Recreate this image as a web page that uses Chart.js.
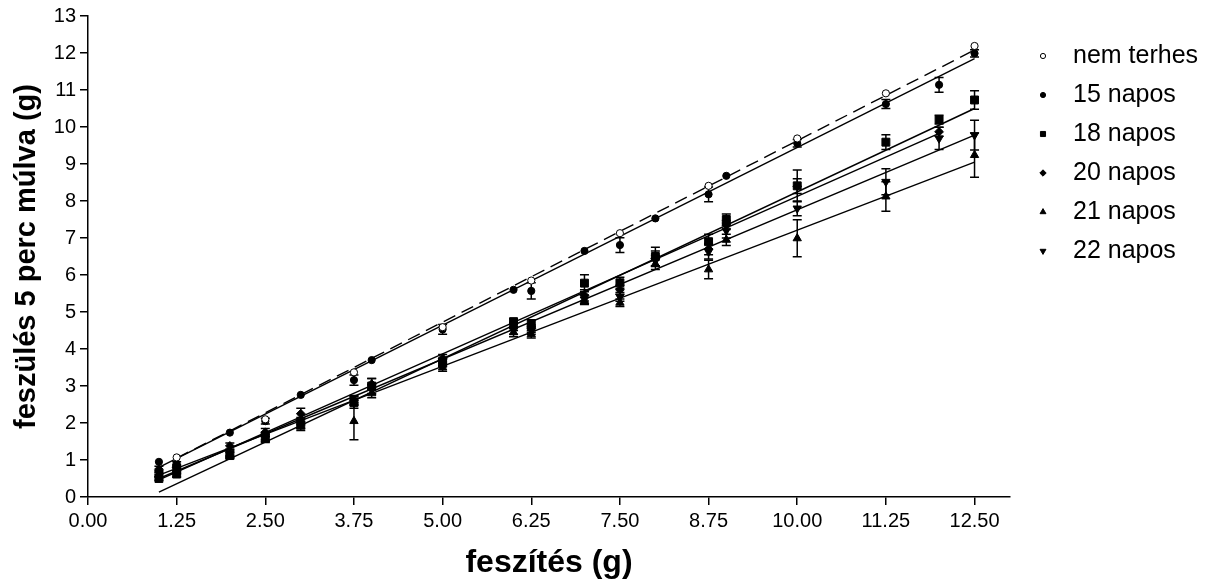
<!DOCTYPE html>
<html>
<head>
<meta charset="utf-8">
<script src="https://cdn.jsdelivr.net/npm/chart.js@4.4.1/dist/chart.umd.min.js"></script>
<style>
html,body{margin:0;padding:0;background:#fff;}
#wrap{width:1213px;height:587px;}
</style>
</head>
<body>
<div id="wrap"><canvas id="c" width="1213" height="587"></canvas></div>
<script>
// ---- data ----
const xValues = [1, 1.25, 2, 2.5, 3, 3.75, 4, 5, 6, 6.25, 7, 7.5, 8, 8.75, 9, 10, 11.25, 12, 12.5];

const nemTerhes = [null, 1.07, null, 2.10, null, 3.37, null, 4.59, null, 5.85, null, 7.13, null, 8.41, null, 9.69, 10.91, null, 12.19];
const nemTerhesErr = [0, 0, 0, 0, 0, 0, 0, 0, 0, 0, 0, 0, 0, 0, 0, 0, 0, 0, 0];

const napos15 = [0.95, 0.90, 1.74, 2.05, 2.76, 3.16, 3.70, 4.53, 5.60, 5.57, 6.65, 6.81, 7.53, 8.18, 8.68, 9.56, 10.62, 11.14, 11.99];
const napos15Err = [0, 0.05, 0, 0.08, 0, 0.14, 0, 0.13, 0, 0.22, 0, 0.20, 0, 0.20, 0, 0.10, 0.12, 0.20, 0.10];

const napos18 = [0.50, 0.62, 1.12, 1.60, 1.95, 2.55, 3.00, 3.62, 4.74, 4.69, 5.78, 5.79, 6.50, 6.90, 7.50, 8.41, 9.59, 10.20, 10.73];
const napos18Err = [0.05, 0.08, 0.08, 0.10, 0.10, 0.15, 0.20, 0.10, 0.08, 0.10, 0.23, 0.15, 0.25, 0.20, 0.15, 0.43, 0.20, 0.12, 0.25];

const napos20 = [0.75, 0.80, 1.38, 1.75, 2.25, 2.62, 3.05, 3.75, 4.60, 4.55, 5.45, 5.60, 6.45, 6.70, 7.35, 8.40, null, 9.87, null];
const napos20Err = [0.08, 0.08, 0.08, 0.10, 0.15, 0.12, 0.15, 0.10, 0.10, 0.10, 0.15, 0.12, 0.20, 0.15, 0.12, 0.20, 0, 0.12, 0];

const napos21 = [0.60, 0.70, 1.15, 1.55, 1.90, 2.05, 2.80, 3.50, 4.45, 4.40, 5.30, 5.25, 6.30, 6.15, 6.95, 6.99, 8.12, null, 9.24];
const napos21Err = [0.05, 0.08, 0.08, 0.08, 0.10, 0.50, 0.12, 0.10, 0.12, 0.10, 0.10, 0.10, 0.15, 0.25, 0.15, 0.50, 0.40, 0, 0.60];

const napos22 = [0.65, 0.75, 1.20, 1.65, 2.05, 2.60, 2.90, 3.65, 4.50, 4.50, 5.34, 5.41, 6.38, 6.63, 7.20, 7.80, 8.52, 9.69, 9.78];
const napos22Err = [0.05, 0.08, 0.08, 0.10, 0.10, 0.12, 0.12, 0.10, 0.10, 0.10, 0.12, 0.12, 0.15, 0.20, 0.20, 0.20, 0.35, 0.30, 0.40];

// fitted lines, order: nem terhes, 15, 18, 20, 21, 22 napos
const fitStartX = [1.25, 1, 1, 1, 1, 1];
const fitStartY = [1.05, 0.80, 0.13, 0.46, 0.59, 0.50];
const fitEndX = [12.5, 12.5, 12.5, 12, 12.5, 12.5];
const fitEndY = [12.08, 11.85, 10.50, 9.83, 9.05, 9.78];

const seriesLabels = ['nem terhes', '15 napos', '18 napos', '20 napos', '21 napos', '22 napos'];
const xTicks = [0, 1.25, 2.5, 3.75, 5, 6.25, 7.5, 8.75, 10, 11.25, 12.5];
const yTicks = [0, 1, 2, 3, 4, 5, 6, 7, 8, 9, 10, 11, 12, 13];
const xTitle = 'feszítés (g)';
const yTitle = 'feszülés 5 perc múlva (g)';

// ---- build datasets ----
function points(vals, errs) {
  const out = [];
  vals.forEach((v, i) => { if (v !== null) out.push({ x: xValues[i], y: v, e: errs[i] }); });
  return out;
}
const seriesVals = [nemTerhes, napos15, napos18, napos20, napos21, napos22];
const seriesErrs = [nemTerhesErr, napos15Err, napos18Err, napos20Err, napos21Err, napos22Err];
const styles = [
  { pointStyle: 'circle', radius: 3.6, bg: '#ffffff', rot: 0, lr: 2.6 },
  { pointStyle: 'circle', radius: 3.6, bg: '#000000', rot: 0, lr: 2.6 },
  { pointStyle: 'rect', radius: 5.6, bg: '#000000', rot: 0, lr: 3.6 },
  { pointStyle: 'rectRot', radius: 4.4, bg: '#000000', rot: 0, lr: 3.2 },
  { pointStyle: 'triangle', radius: 4.8, bg: '#000000', rot: 0, lr: 3.4 },
  { pointStyle: 'triangle', radius: 4.8, bg: '#000000', rot: 180, lr: 3.4 }
];

const datasets = [];
seriesLabels.forEach((lab, i) => {
  datasets.push({
    label: lab + ' (illesztés)',
    data: [{ x: fitStartX[i], y: fitStartY[i] }, { x: fitEndX[i], y: fitEndY[i] }],
    showLine: true,
    pointRadius: 0,
    borderColor: '#000',
    borderWidth: 1.4,
    borderDash: i === 0 ? [13, 7] : [],
    fill: false,
    order: 2
  });
});
seriesLabels.forEach((lab, i) => {
  const s = styles[i];
  datasets.push({
    label: lab,
    inLegend: true,
    legendRadius: s.lr,
    data: points(seriesVals[i], seriesErrs[i]),
    showLine: false,
    pointStyle: s.pointStyle,
    pointRadius: s.radius,
    pointRotation: s.rot,
    backgroundColor: s.bg,
    borderColor: '#000',
    pointBorderWidth: 1,
    order: 1
  });
});

// ---- plugins ----
const errorBars = {
  id: 'errorBars',
  beforeDatasetsDraw(chart) {
    const { ctx, scales } = chart;
    const xs = scales.x, ys = scales.y;
    ctx.save();
    ctx.strokeStyle = '#000';
    ctx.lineWidth = 1.5;
    chart.data.datasets.forEach(ds => {
      if (!ds.inLegend) return;
      ds.data.forEach(p => {
        if (!p.e) return;
        const px = xs.getPixelForValue(p.x);
        const t = ys.getPixelForValue(p.y + p.e);
        const b = ys.getPixelForValue(p.y - p.e);
        ctx.beginPath();
        ctx.moveTo(px, t); ctx.lineTo(px, b);
        ctx.moveTo(px - 4.5, t); ctx.lineTo(px + 4.5, t);
        ctx.moveTo(px - 4.5, b); ctx.lineTo(px + 4.5, b);
        ctx.stroke();
      });
    });
    ctx.restore();
  }
};

const sideLegend = {
  id: 'sideLegend',
  afterDraw(chart, args, opts) {
    const ctx = chart.ctx;
    ctx.save();
    ctx.font = opts.font;
    ctx.textBaseline = 'middle';
    ctx.textAlign = 'left';
    let row = 0;
    chart.data.datasets.forEach(ds => {
      if (!ds.inLegend) return;
      const cy = opts.top + row * opts.step;
      ctx.fillStyle = ds.backgroundColor;
      ctx.strokeStyle = ds.borderColor;
      ctx.lineWidth = 1;
      Chart.helpers.drawPoint(ctx, {
        pointStyle: ds.pointStyle,
        rotation: ds.pointRotation || 0,
        radius: ds.legendRadius,
        borderWidth: 1
      }, opts.markerX, cy);
      ctx.fillStyle = '#000';
      ctx.fillText(ds.label, opts.textX, cy);
      row++;
    });
    ctx.restore();
  }
};

const FONT = 'Arial, "Liberation Sans", Helvetica, sans-serif';
Chart.defaults.font.family = FONT;
Chart.defaults.color = '#000';

new Chart(document.getElementById('c'), {
  type: 'scatter',
  data: { datasets },
  plugins: [errorBars, sideLegend],
  options: {
    responsive: false,
    animation: false,
    devicePixelRatio: 1,
    layout: { padding: { top: 16, right: 203, left: 0, bottom: 0 } },
    plugins: {
      legend: { display: false },
      tooltip: { enabled: false },
      sideLegend: { font: '25px ' + FONT, markerX: 1043, textX: 1073, top: 56, step: 39 }
    },
    scales: {
      x: {
        type: 'linear',
        min: 0, max: 13,
        afterBuildTicks: s => { s.ticks = xTicks.map(v => ({ value: v })); },
        afterFit: s => { s.height = 90; },
        ticks: {
          callback: v => Number(v).toFixed(2),
          font: { size: 20 },
          color: '#000',
          padding: 4,
          maxRotation: 0,
          autoSkip: false
        },
        grid: { display: true, drawOnChartArea: false, drawTicks: true, tickLength: 8, color: '#000', lineWidth: 1.5 },
        border: { display: true, color: '#000', width: 1.5 },
        title: { display: true, text: xTitle, color: '#000', font: { size: 32, weight: 'bold' }, padding: { top: 4, bottom: 5 } }
      },
      y: {
        type: 'linear',
        min: 0, max: 13,
        afterBuildTicks: s => { s.ticks = yTicks.map(v => ({ value: v })); },
        afterFit: s => { s.width = 88; },
        ticks: { font: { size: 20 }, color: '#000', padding: 4, autoSkip: false },
        grid: { display: true, drawOnChartArea: false, drawTicks: true, tickLength: 8, color: '#000', lineWidth: 1.5 },
        border: { display: true, color: '#000', width: 1.5 },
        title: { display: true, text: yTitle, color: '#000', font: { size: 29, weight: 'bold' }, padding: { top: 10, bottom: 0 } }
      }
    }
  }
});
</script>
</body>
</html>
